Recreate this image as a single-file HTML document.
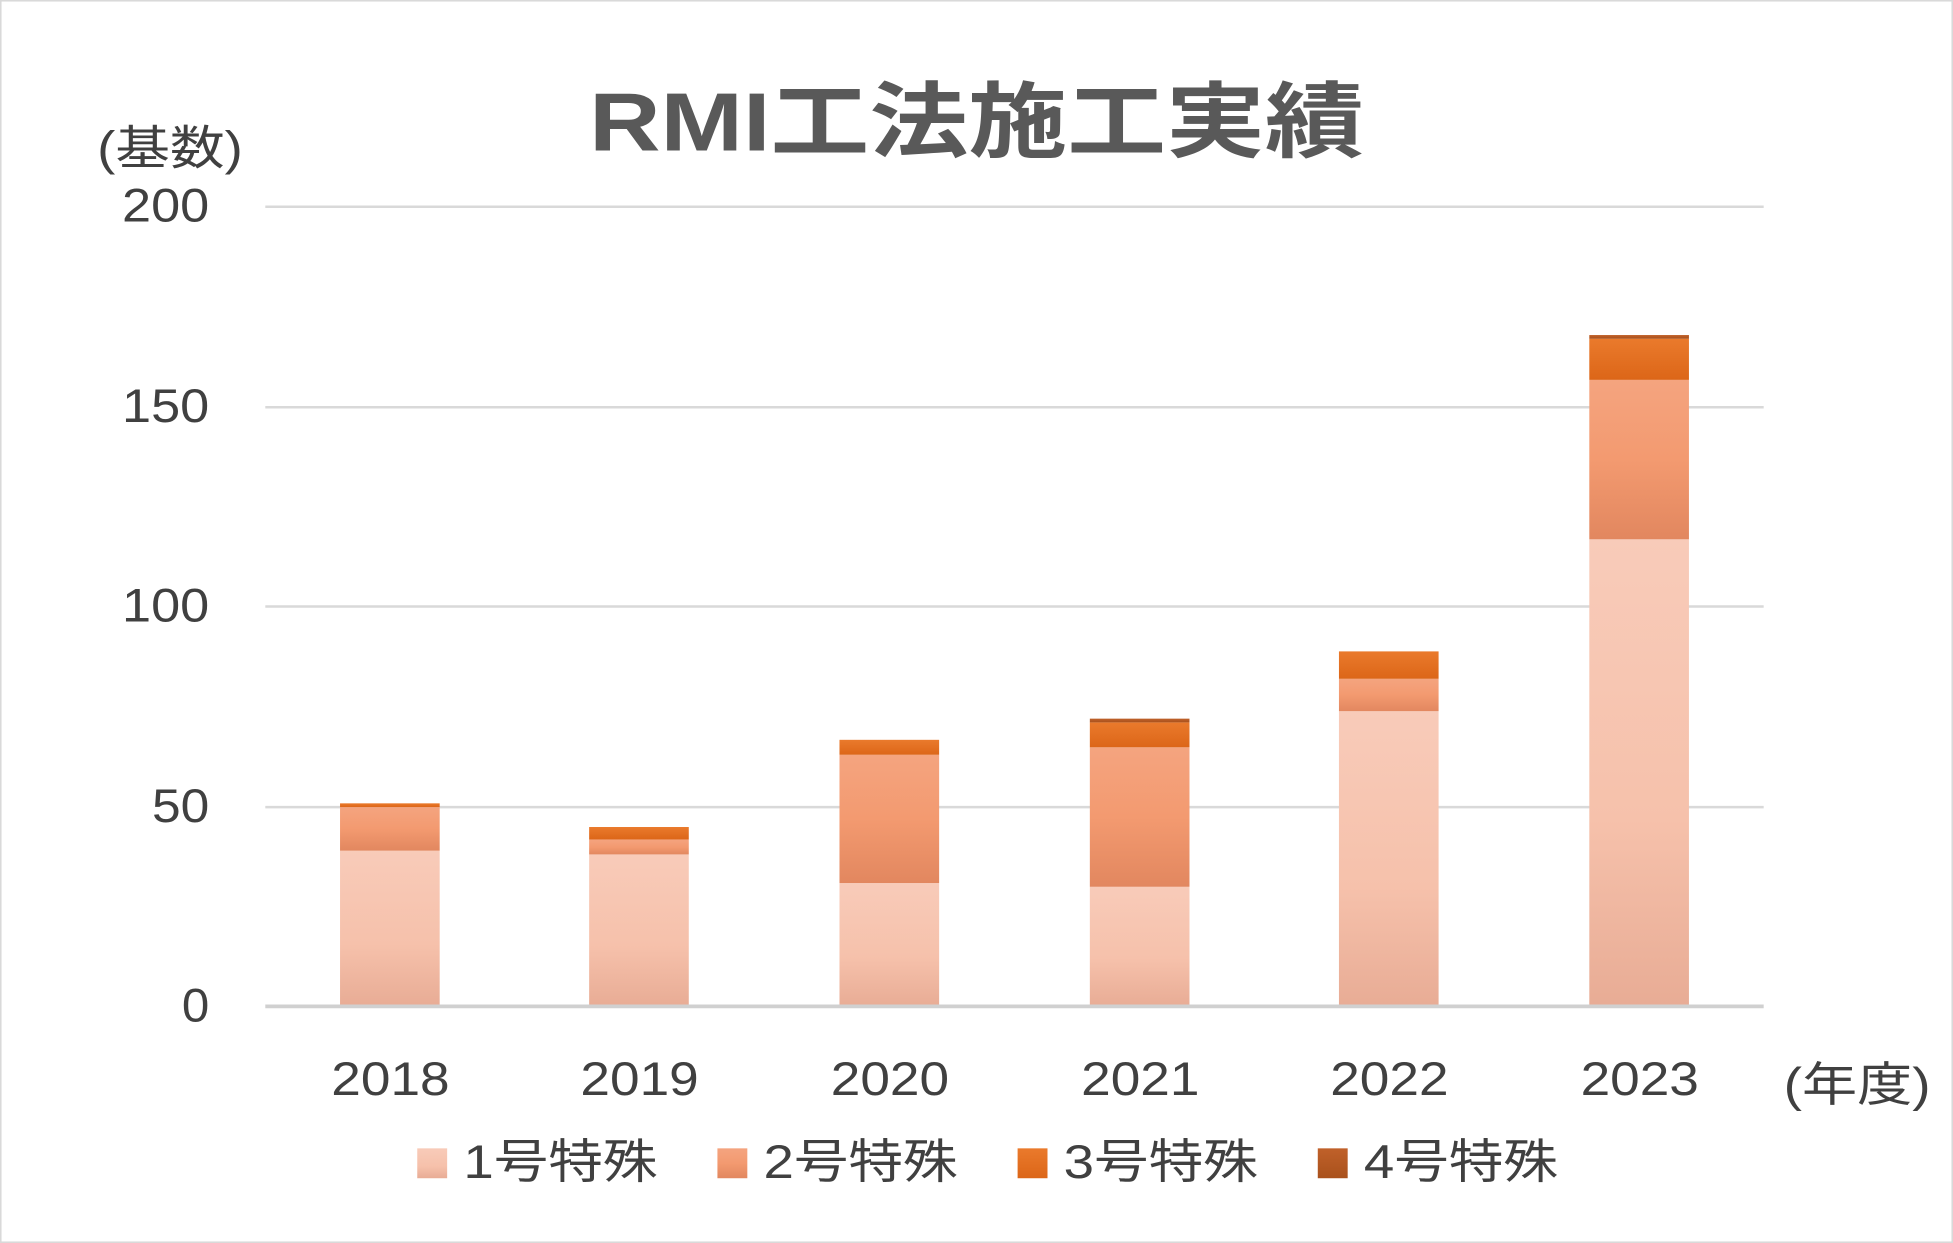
<!DOCTYPE html>
<html><head><meta charset="utf-8"><style>
html,body{margin:0;padding:0;background:#fff;}
svg{display:block;}
text{font-family:"Liberation Sans","Noto Sans CJK JP",sans-serif;fill:#404040;}
</style></head><body>
<svg width="1953" height="1243" viewBox="0 0 1568 998" preserveAspectRatio="none" xmlns="http://www.w3.org/2000/svg">
<defs>
<linearGradient id="g1" x1="0" y1="0" x2="0" y2="1"><stop offset="0" stop-color="#f8cbb9"/><stop offset="0.6" stop-color="#f6c1ab"/><stop offset="1" stop-color="#e8ac95"/></linearGradient>
<linearGradient id="g2" x1="0" y1="0" x2="0" y2="1"><stop offset="0" stop-color="#f4a47f"/><stop offset="0.5" stop-color="#f39a70"/><stop offset="1" stop-color="#e2875f"/></linearGradient>
<linearGradient id="g3" x1="0" y1="0" x2="0" y2="1"><stop offset="0" stop-color="#ea7a2c"/><stop offset="1" stop-color="#dc6618"/></linearGradient>
<linearGradient id="g4" x1="0" y1="0" x2="0" y2="1"><stop offset="0" stop-color="#c0612a"/><stop offset="1" stop-color="#a9511c"/></linearGradient>
</defs>
<rect x="0.5" y="0.5" width="1567" height="997" fill="#fff" stroke="#d9d9d9" stroke-width="1.5"/>
<text x="473" y="121" font-size="66" font-weight="bold" textLength="622" lengthAdjust="spacingAndGlyphs" style="fill:#595959">RMI工法施工実績</text>
<text x="78" y="132" font-size="38" textLength="117" lengthAdjust="spacingAndGlyphs">(基数)</text>
<g stroke="#d9d9d9" stroke-width="2">
<line x1="213" y1="166" x2="1416" y2="166"/>
<line x1="213" y1="327" x2="1416" y2="327"/>
<line x1="213" y1="487" x2="1416" y2="487"/>
<line x1="213" y1="648" x2="1416" y2="648"/>
</g>
<g font-size="38">
<text x="98" y="178" textLength="70" lengthAdjust="spacingAndGlyphs">200</text>
<text x="98" y="339" textLength="70" lengthAdjust="spacingAndGlyphs">150</text>
<text x="98" y="499" textLength="70" lengthAdjust="spacingAndGlyphs">100</text>
<text x="122" y="660" textLength="46" lengthAdjust="spacingAndGlyphs">50</text>
<text x="146" y="820" textLength="22" lengthAdjust="spacingAndGlyphs">0</text>
</g>
<g>
<rect x="273" y="683" width="80" height="125" fill="url(#g1)"/>
<rect x="273" y="648" width="80" height="35" fill="url(#g2)"/>
<rect x="273" y="645" width="80" height="3" fill="url(#g3)"/>
<rect x="473" y="686" width="80" height="122" fill="url(#g1)"/>
<rect x="473" y="674" width="80" height="12" fill="url(#g2)"/>
<rect x="473" y="664" width="80" height="10" fill="url(#g3)"/>
<rect x="674" y="709" width="80" height="99" fill="url(#g1)"/>
<rect x="674" y="606" width="80" height="103" fill="url(#g2)"/>
<rect x="674" y="594" width="80" height="12" fill="url(#g3)"/>
<rect x="875" y="712" width="80" height="96" fill="url(#g1)"/>
<rect x="875" y="600" width="80" height="112" fill="url(#g2)"/>
<rect x="875" y="580" width="80" height="20" fill="url(#g3)"/>
<rect x="875" y="577" width="80" height="3" fill="url(#g4)"/>
<rect x="1075" y="571" width="80" height="237" fill="url(#g1)"/>
<rect x="1075" y="545" width="80" height="26" fill="url(#g2)"/>
<rect x="1075" y="523" width="80" height="22" fill="url(#g3)"/>
<rect x="1276" y="433" width="80" height="375" fill="url(#g1)"/>
<rect x="1276" y="305" width="80" height="128" fill="url(#g2)"/>
<rect x="1276" y="272" width="80" height="33" fill="url(#g3)"/>
<rect x="1276" y="269" width="80" height="3" fill="url(#g4)"/>
</g>
<line x1="213" y1="808" x2="1416" y2="808" stroke="#d0d0d0" stroke-width="3"/>
<g font-size="38">
<text x="266" y="879" textLength="95" lengthAdjust="spacingAndGlyphs">2018</text>
<text x="466" y="879" textLength="95" lengthAdjust="spacingAndGlyphs">2019</text>
<text x="667" y="879" textLength="95" lengthAdjust="spacingAndGlyphs">2020</text>
<text x="868" y="879" textLength="95" lengthAdjust="spacingAndGlyphs">2021</text>
<text x="1068" y="879" textLength="95" lengthAdjust="spacingAndGlyphs">2022</text>
<text x="1269" y="879" textLength="95" lengthAdjust="spacingAndGlyphs">2023</text>
</g>
<text x="1432" y="884" font-size="38" textLength="118" lengthAdjust="spacingAndGlyphs">(年度)</text>
<g font-size="38">
<rect x="335" y="922" width="24" height="24" fill="url(#g1)"/><text x="372" y="946" textLength="156" lengthAdjust="spacingAndGlyphs">1号特殊</text>
<rect x="576" y="922" width="24" height="24" fill="url(#g2)"/><text x="613" y="946" textLength="156" lengthAdjust="spacingAndGlyphs">2号特殊</text>
<rect x="817" y="922" width="24" height="24" fill="url(#g3)"/><text x="854" y="946" textLength="156" lengthAdjust="spacingAndGlyphs">3号特殊</text>
<rect x="1058" y="922" width="24" height="24" fill="url(#g4)"/><text x="1095" y="946" textLength="156" lengthAdjust="spacingAndGlyphs">4号特殊</text>
</g>
</svg>
</body></html>
